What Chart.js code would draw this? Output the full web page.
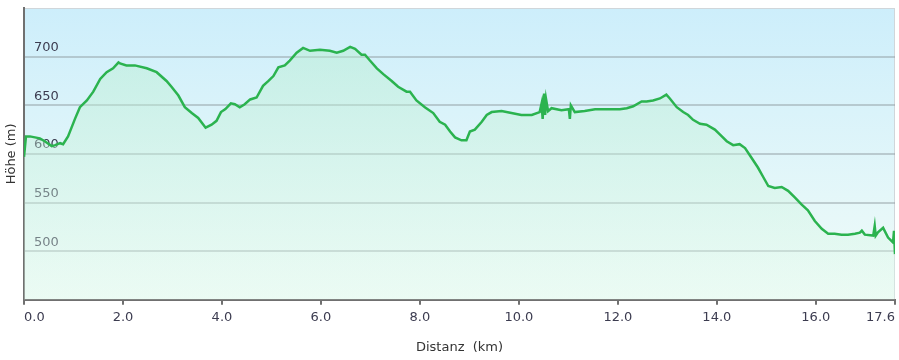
<!DOCTYPE html>
<html>
<head>
<meta charset="utf-8">
<script src="https://cdn.jsdelivr.net/npm/chart.js@4.4.1/dist/chart.umd.min.js"></script>
<style>
    html, body { margin: 0; padding: 0; background: #fff; }
    #wrap { width: 899px; height: 360px; }
</style>
</head>
<body>
<div id="wrap"><canvas id="chart"></canvas></div>
<script>
// distance (km) and elevation (m)
const distKm = [0.00, 0.04, 0.12, 0.32, 0.42, 0.56, 0.63, 0.73, 0.79, 0.89,
    1.03, 1.13, 1.27, 1.40, 1.54, 1.67, 1.80, 1.91, 1.94, 2.07,
    2.24, 2.48, 2.68, 2.88, 2.98, 3.12, 3.25, 3.39, 3.52, 3.67,
    3.79, 3.89, 3.98, 4.07, 4.18, 4.26, 4.36, 4.46, 4.57, 4.70,
    4.83, 4.94, 5.04, 5.14, 5.27, 5.37, 5.51, 5.64, 5.78, 5.98,
    6.18, 6.32, 6.45, 6.59, 6.69, 6.82, 6.89, 6.99, 7.13, 7.26,
    7.43, 7.56, 7.73, 7.80, 7.93, 8.10, 8.27, 8.40, 8.51, 8.61,
    8.71, 8.84, 8.94, 9.01, 9.11, 9.25, 9.35, 9.45, 9.65, 9.85,
    10.05, 10.26, 10.42, 10.46, 10.48, 10.51, 10.53, 10.55, 10.59, 10.66,
    10.86, 11.01, 11.03, 11.05, 11.13, 11.33, 11.54, 11.74, 11.84, 12.04,
    12.18, 12.31, 12.48, 12.58, 12.71, 12.85, 12.98, 13.05, 13.19, 13.32,
    13.42, 13.52, 13.66, 13.79, 13.96, 14.06, 14.20, 14.33, 14.46, 14.57,
    14.70, 14.83, 14.94, 15.04, 15.17, 15.31, 15.44, 15.58, 15.71, 15.84,
    15.98, 16.12, 16.25, 16.38, 16.52, 16.65, 16.79, 16.89, 16.93, 16.99,
    17.16, 17.19, 17.21, 17.25, 17.36, 17.46, 17.56, 17.58, 17.60];
const heightM = [597, 618, 618, 616, 613, 608, 609, 611, 610, 618,
    636, 648, 655, 664, 677, 684, 688, 694, 693, 691,
    691, 688, 684, 675, 669, 660, 648, 642, 637, 627,
    630, 634, 643, 646, 652, 651, 648, 651, 656, 658,
    670, 675, 680, 689, 691, 696, 704, 709, 706, 707,
    706, 704, 706, 710, 708, 702, 702, 696, 688, 682,
    675, 669, 664, 664, 655, 648, 642, 633, 630, 623,
    617, 614, 614, 623, 625, 633, 640, 643, 644, 642,
    640, 640, 643, 652, 636, 662, 640, 656, 644, 647,
    645, 646, 636, 650, 643, 644, 646, 646, 646, 646,
    647, 649, 654, 654, 655, 657, 661, 657, 648, 643,
    640, 635, 631, 630, 625, 620, 613, 609, 610, 606,
    596, 586, 576, 567, 565, 566, 562, 555, 548, 542,
    531, 523, 518, 518, 517, 517, 518, 519, 521, 517,
    516, 526, 516, 519, 524, 514, 509, 521, 497];
const xTicks = [0, 2, 4, 6, 8, 10, 12, 14, 16, 17.6];
const yTicks = [500, 550, 600, 650, 700];

const points = distKm.map((d, i) => ({ x: d, y: heightM[i] }));

// plot background: light blue at the top fading to pale green
const plotBg = {
    id: 'plotBg',
    beforeDraw(chart) {
        const { ctx, chartArea: a } = chart;
        const g = ctx.createLinearGradient(0, a.top, 0, a.bottom);
        g.addColorStop(0, '#cdeefb');
        g.addColorStop(1, '#f1fcf8');
        ctx.save();
        ctx.fillStyle = g;
        ctx.fillRect(a.left, a.top, a.right - a.left, a.bottom - a.top);
        ctx.strokeStyle = '#d0d6da';
        ctx.lineWidth = 1;
        ctx.strokeRect(a.left + 0.5, a.top + 0.5, a.right - a.left - 1, a.bottom - a.top);
        ctx.restore();
    }
};

// no extra padding for labels, the layout padding places the plot
const noPad = (a) => {
    a.paddingTop = 0;
    a.paddingBottom = 0;
    a.paddingLeft = 0;
    a.paddingRight = 0;
};

const ctx = document.getElementById('chart').getContext('2d');

new Chart(ctx, {
    type: 'line',
    data: {
        datasets: [{
            data: points,
            borderColor: '#2bb34f',
            borderWidth: 2.5,
            pointRadius: 0,
            tension: 0,
            fill: 'start',
            backgroundColor: (c) => {
                const a = c.chart.chartArea;
                if (!a) return 'rgba(190,240,210,0.4)';
                const g = c.chart.ctx.createLinearGradient(0, a.top, 0, a.bottom);
                g.addColorStop(0, 'rgba(175,235,200,0.45)');
                g.addColorStop(1, 'rgba(225,250,235,0.35)');
                return g;
            }
        }]
    },
    plugins: [plotBg],
    options: {
        responsive: true,
        maintainAspectRatio: false,
        animation: false,
        layout: { padding: { left: 2, right: 4, top: 8, bottom: 5 } },
        plugins: {
            legend: { display: false },
            tooltip: { enabled: false }
        },
        scales: {
            x: {
                type: 'linear',
                min: 0,
                max: 17.6,
                afterBuildTicks: (axis) => { axis.ticks = xTicks.map(v => ({ value: v })); },
                afterFit: noPad,
                grid: { drawOnChartArea: false, drawTicks: true, tickLength: 5, color: '#707070', lineWidth: 2 },
                border: { display: true, color: '#707070', width: 2 },
                ticks: {
                    align: 'inner',
                    maxRotation: 0,
                    autoSkip: false,
                    padding: 5,
                    color: '#3c3c50',
                    font: { family: 'DejaVu Sans', size: 13 },
                    callback: (v) => Number(v).toFixed(1)
                },
                title: {
                    display: true,
                    text: 'Distanz  (km)',
                    color: '#333',
                    font: { family: 'DejaVu Sans', size: 13 },
                    padding: { top: 9, bottom: 0 }
                }
            },
            y: {
                min: 450,
                max: 750,
                afterBuildTicks: (axis) => { axis.ticks = yTicks.map(v => ({ value: v })); },
                afterFit: (a) => { noPad(a); a.width = 22; },
                grid: { drawTicks: false, color: 'rgba(140,150,155,0.45)', lineWidth: 2 },
                border: { display: true, color: '#707070', width: 2 },
                ticks: {
                    mirror: true,
                    padding: 10,
                    labelOffset: -9,
                    color: '#3c3c50',
                    font: { family: 'DejaVu Sans', size: 13 }
                },
                title: {
                    display: true,
                    text: 'Höhe (m)',
                    color: '#333',
                    font: { family: 'DejaVu Sans', size: 13 },
                    padding: { top: 2, bottom: 4 }
                }
            }
        }
    }
});
</script>
</body>
</html>
